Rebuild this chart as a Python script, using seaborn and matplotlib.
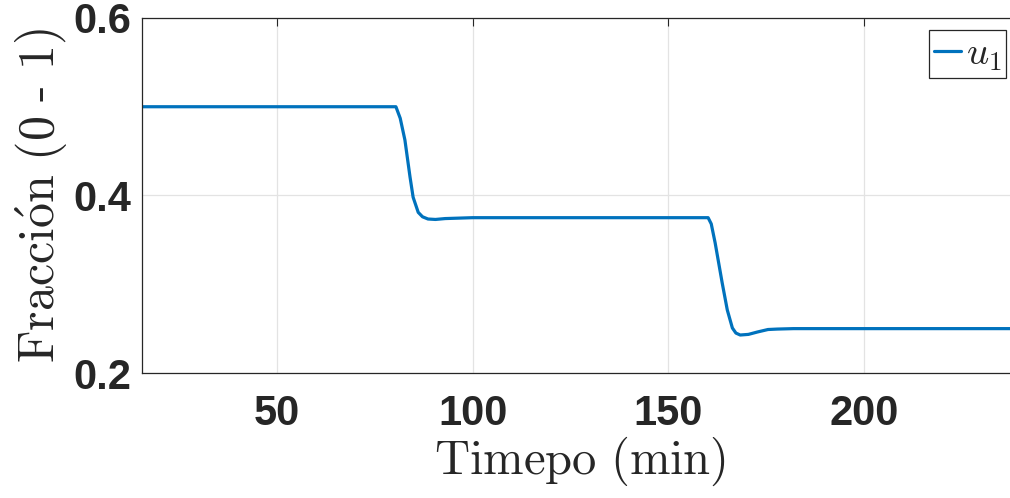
import matplotlib
matplotlib.use("Agg")
import matplotlib.pyplot as plt
import seaborn as sns
import pandas as pd

# Data
time_min = [15.5, 80.4, 81.5, 82.7, 84.0, 84.8, 86.1, 87.2, 88.6, 90.5, 93.0, 100.0,
            160.2, 161.0, 162.0, 163.8, 165.1, 166.4, 167.3, 168.4, 170.5, 172.8,
            175.5, 177.9, 182.0, 240.0]
u1 = [0.5, 0.5, 0.487, 0.4625, 0.421, 0.398, 0.381, 0.376, 0.3735, 0.373, 0.374, 0.375,
      0.375, 0.368, 0.3465, 0.3014, 0.271, 0.2507, 0.245, 0.2428, 0.2435, 0.2462,
      0.249, 0.2495, 0.25, 0.25]
x_ticks = [50, 100, 150, 200]
y_ticks = [0.2, 0.4, 0.6]
series_label = r"$u_1$"

df = pd.DataFrame({"t": time_min, "u": u1})

sns.set_style("white")
plt.rcParams["mathtext.fontset"] = "cm"

fig = plt.figure(figsize=(10.1, 4.98), dpi=100)
# axes extends slightly beyond the right edge of the figure (cropped like the reference)
ax = fig.add_axes([0.1406, 0.251, 0.8673, 0.7129])

sns.lineplot(data=df, x="t", y="u", ax=ax, color="#0072BD", linewidth=2.3,
             estimator=None, label=series_label)

ax.set_xlim(15.5, 239.4)
ax.set_ylim(0.2, 0.6)
ax.set_xticks(x_ticks)
ax.set_yticks(y_ticks)
ax.set_xticklabels([str(v) for v in x_ticks])
ax.set_yticklabels([f"{v:.1f}" for v in y_ticks])

axis_col = "#262626"
for lab in ax.get_xticklabels() + ax.get_yticklabels():
    lab.set_fontfamily("Liberation Sans")
    lab.set_fontweight("bold")
    lab.set_fontsize(30)
    lab.set_color(axis_col)

ax.tick_params(axis="both", direction="in", length=6, width=0.8, color=axis_col,
               top=True, right=True)
ax.tick_params(axis="x", pad=15)
ax.tick_params(axis="y", pad=8)

ax.grid(True, color="#e3e3e3", linewidth=0.9)
for sp in ax.spines.values():
    sp.set_visible(True)
    sp.set_color(axis_col)
    sp.set_linewidth(0.9)

ax.set_xlabel(r"$\mathrm{Timepo\ (min)}$", fontsize=35, color=axis_col, labelpad=1)
ax.set_ylabel(r"$\mathrm{Fracci\acute{o}n\ (0\ \text{-}\ 1)}$", fontsize=36,
              color=axis_col, labelpad=2)

leg = ax.legend(loc="upper right", fontsize=28, frameon=True, fancybox=False,
                handlelength=0.7, handletextpad=0.12, borderpad=0.12,
                borderaxespad=0.3, framealpha=1)
leg.get_frame().set_edgecolor(axis_col)
leg.get_frame().set_linewidth(0.9)

fig.savefig("out.png", dpi=100)
